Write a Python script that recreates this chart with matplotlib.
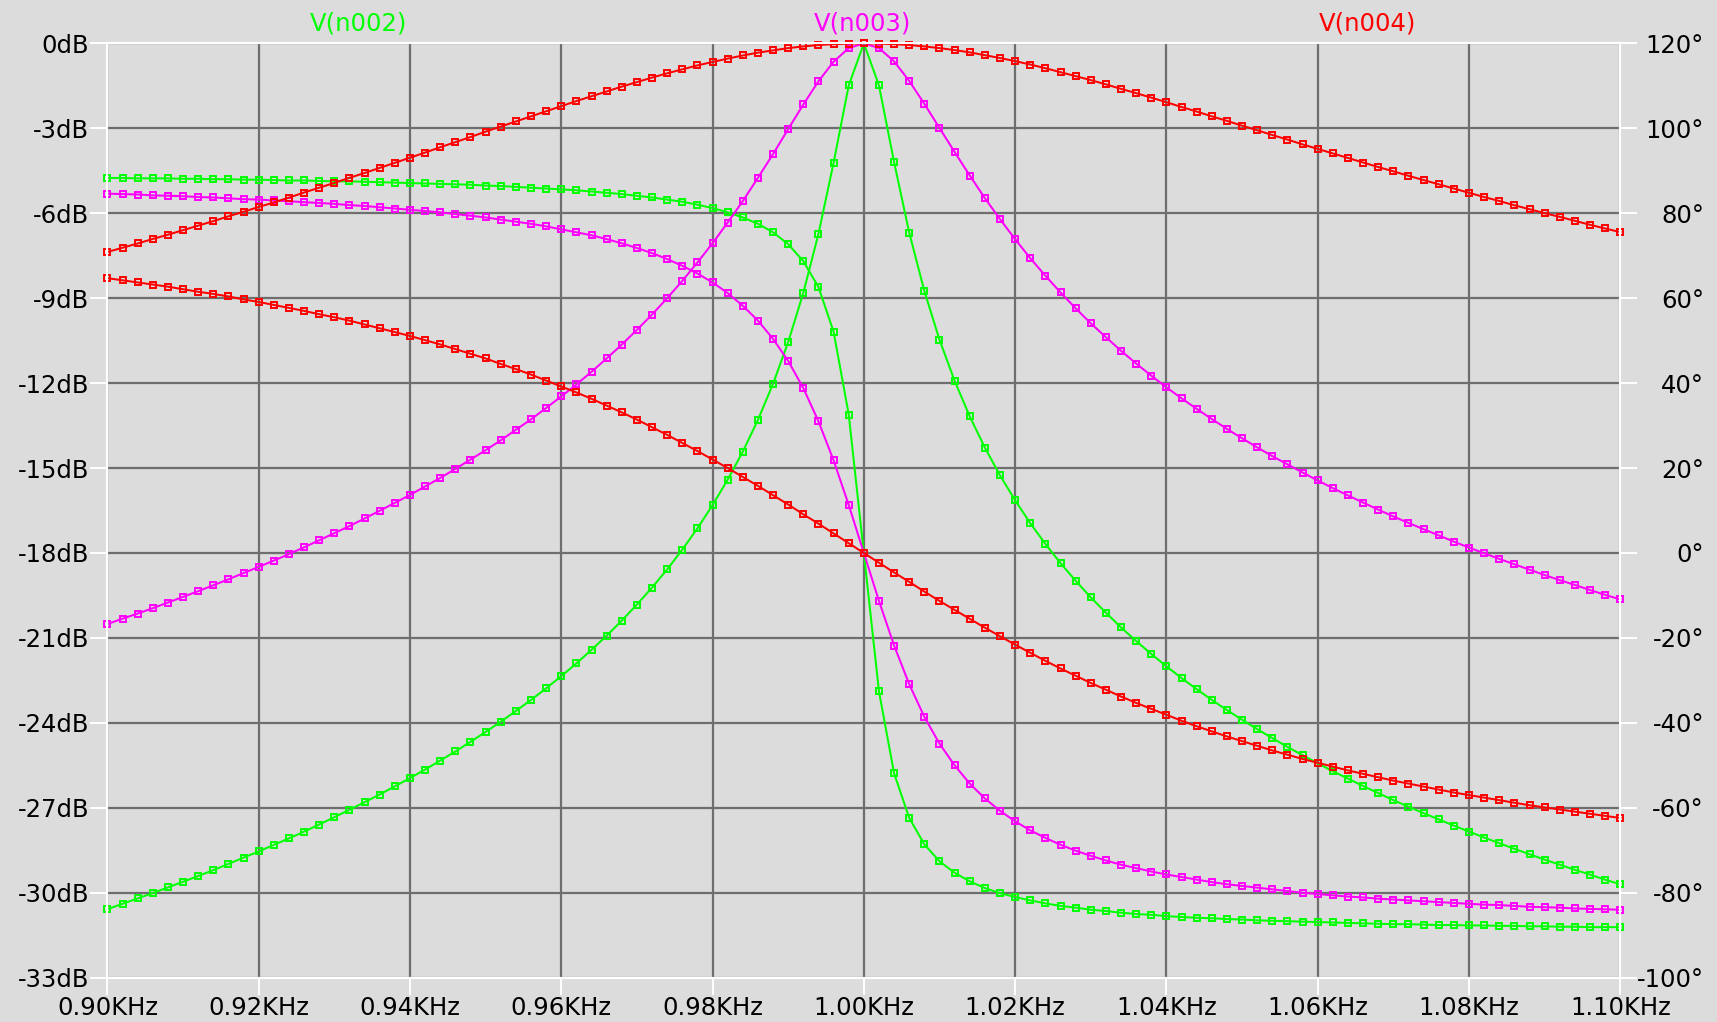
import matplotlib
matplotlib.use("Agg")
import matplotlib.pyplot as plt

# Barrido AC: 900 Hz a 1100 Hz, paso 2 Hz
FREQ_HZ = list(range(900, 1101, 2))

# V(n002) - verde
MAG_N002 = [
    -30.58, -30.39, -30.20, -30.01, -29.81, -29.61, -29.41, -29.20, -28.98, -28.76,
    -28.54, -28.31, -28.08, -27.84, -27.59, -27.33, -27.07, -26.80, -26.53, -26.24,
    -25.95, -25.65, -25.33, -25.01, -24.67, -24.32, -23.96, -23.58, -23.19, -22.78,
    -22.35, -21.90, -21.42, -20.92, -20.39, -19.82, -19.22, -18.58, -17.88, -17.13,
    -16.31, -15.41, -14.42, -13.30, -12.02, -10.55, -8.81, -6.73, -4.22, -1.49,
    0.00,
    -1.49, -4.20, -6.69, -8.75, -10.47, -11.92, -13.18, -14.28, -15.26, -16.14,
    -16.95, -17.68, -18.36, -18.98, -19.57, -20.11, -20.63, -21.11, -21.57, -22.00,
    -22.42, -22.81, -23.19, -23.55, -23.89, -24.22, -24.54, -24.85, -25.14, -25.43,
    -25.71, -25.97, -26.23, -26.48, -26.73, -26.96, -27.19, -27.41, -27.63, -27.84,
    -28.05, -28.25, -28.45, -28.64, -28.83, -29.01, -29.19, -29.36, -29.54, -29.70,
]
PHASE_N002 = [
    88.3, 88.3, 88.2, 88.2, 88.2, 88.1, 88.1, 88.0, 88.0, 87.9,
    87.9, 87.8, 87.7, 87.7, 87.6, 87.5, 87.5, 87.4, 87.3, 87.2,
    87.1, 87.0, 86.9, 86.8, 86.7, 86.5, 86.4, 86.2, 86.0, 85.8,
    85.6, 85.4, 85.1, 84.8, 84.5, 84.1, 83.7, 83.2, 82.7, 82.0,
    81.2, 80.2, 79.0, 77.5, 75.5, 72.7, 68.7, 62.6, 52.1, 32.6,
    0.0,
    -32.6, -51.9, -62.4, -68.6, -72.6, -75.3, -77.3, -78.9, -80.1, -81.0,
    -81.8, -82.5, -83.1, -83.5, -84.0, -84.3, -84.7, -85.0, -85.2, -85.5,
    -85.7, -85.9, -86.0, -86.2, -86.3, -86.5, -86.6, -86.7, -86.8, -86.9,
    -87.0, -87.1, -87.2, -87.3, -87.4, -87.4, -87.5, -87.6, -87.6, -87.7,
    -87.7, -87.8, -87.8, -87.9, -87.9, -88.0, -88.0, -88.1, -88.1, -88.1,
]

# V(n003) - magenta
MAG_N003 = [
    -20.51, -20.32, -20.14, -19.95, -19.75, -19.55, -19.35, -19.14, -18.93, -18.71,
    -18.49, -18.27, -18.04, -17.80, -17.55, -17.30, -17.05, -16.78, -16.51, -16.23,
    -15.95, -15.65, -15.35, -15.03, -14.70, -14.37, -14.02, -13.65, -13.28, -12.88,
    -12.47, -12.05, -11.60, -11.13, -10.64, -10.12, -9.58, -9.00, -8.39, -7.74,
    -7.06, -6.33, -5.57, -4.75, -3.91, -3.03, -2.16, -1.34, -0.65, -0.17,
    0.00,
    -0.17, -0.64, -1.33, -2.14, -2.99, -3.84, -4.67, -5.47, -6.21, -6.92,
    -7.59, -8.21, -8.80, -9.36, -9.89, -10.38, -10.86, -11.31, -11.74, -12.15,
    -12.54, -12.91, -13.27, -13.62, -13.95, -14.27, -14.58, -14.87, -15.16, -15.44,
    -15.71, -15.97, -16.22, -16.47, -16.71, -16.94, -17.16, -17.38, -17.60, -17.81,
    -18.01, -18.21, -18.40, -18.59, -18.78, -18.96, -19.13, -19.31, -19.48, -19.64,
]
PHASE_N003 = [
    84.6, 84.5, 84.4, 84.2, 84.1, 84.0, 83.8, 83.7, 83.5, 83.3,
    83.2, 83.0, 82.8, 82.6, 82.4, 82.2, 81.9, 81.7, 81.4, 81.1,
    80.8, 80.5, 80.2, 79.8, 79.4, 79.0, 78.5, 78.0, 77.5, 76.9,
    76.2, 75.5, 74.8, 73.9, 72.9, 71.8, 70.6, 69.2, 67.6, 65.8,
    63.7, 61.2, 58.2, 54.7, 50.4, 45.2, 38.8, 31.0, 21.8, 11.3,
    0.0,
    -11.3, -21.8, -30.9, -38.6, -44.9, -50.0, -54.3, -57.8, -60.7, -63.2,
    -65.3, -67.1, -68.7, -70.1, -71.3, -72.4, -73.4, -74.2, -75.0, -75.7,
    -76.3, -76.9, -77.5, -78.0, -78.4, -78.8, -79.2, -79.6, -80.0, -80.3,
    -80.6, -80.9, -81.1, -81.4, -81.6, -81.8, -82.0, -82.2, -82.4, -82.6,
    -82.8, -82.9, -83.1, -83.3, -83.4, -83.5, -83.7, -83.8, -83.9, -84.0,
]

# V(n004) - rojo
MAG_N004 = [
    -7.37, -7.22, -7.07, -6.91, -6.76, -6.60, -6.44, -6.28, -6.11, -5.95,
    -5.78, -5.62, -5.45, -5.27, -5.10, -4.93, -4.75, -4.58, -4.40, -4.22,
    -4.04, -3.86, -3.67, -3.49, -3.31, -3.12, -2.94, -2.76, -2.58, -2.40,
    -2.22, -2.04, -1.87, -1.70, -1.53, -1.37, -1.21, -1.06, -0.92, -0.78,
    -0.66, -0.54, -0.43, -0.33, -0.25, -0.17, -0.11, -0.06, -0.03, -0.01,
    0.00,
    -0.01, -0.03, -0.06, -0.11, -0.17, -0.24, -0.32, -0.42, -0.52, -0.63,
    -0.75, -0.88, -1.02, -1.16, -1.30, -1.45, -1.61, -1.76, -1.92, -2.08,
    -2.25, -2.41, -2.58, -2.74, -2.91, -3.07, -3.24, -3.40, -3.57, -3.73,
    -3.89, -4.05, -4.21, -4.37, -4.52, -4.68, -4.83, -4.98, -5.13, -5.28,
    -5.43, -5.57, -5.72, -5.86, -6.00, -6.13, -6.27, -6.41, -6.54, -6.67,
]
PHASE_N004 = [
    64.7, 64.2, 63.7, 63.2, 62.7, 62.1, 61.5, 61.0, 60.4, 59.7,
    59.1, 58.4, 57.7, 57.0, 56.2, 55.5, 54.7, 53.8, 52.9, 52.0,
    51.1, 50.1, 49.1, 48.0, 46.9, 45.8, 44.5, 43.3, 42.0, 40.6,
    39.2, 37.8, 36.3, 34.7, 33.1, 31.4, 29.6, 27.8, 25.9, 24.0,
    22.0, 20.0, 17.9, 15.8, 13.6, 11.4, 9.1, 6.9, 4.6, 2.3,
    0.0,
    -2.3, -4.6, -6.8, -9.1, -11.3, -13.4, -15.5, -17.6, -19.6, -21.6,
    -23.5, -25.4, -27.2, -28.9, -30.6, -32.2, -33.8, -35.3, -36.7, -38.1,
    -39.5, -40.8, -42.0, -43.2, -44.3, -45.4, -46.5, -47.5, -48.5, -49.4,
    -50.3, -51.2, -52.0, -52.8, -53.6, -54.3, -55.0, -55.7, -56.4, -57.0,
    -57.6, -58.2, -58.8, -59.4, -59.9, -60.4, -60.9, -61.4, -61.9, -62.4,
]

NOMBRES = ["V(n002)", "V(n003)", "V(n004)"]
COLORES = ["#00ff00", "#ff00ff", "#ff0000"]
X_TITULOS = [358, 863, 1367]   # centro de cada titulo en pixeles

X_TICKS = [0.90, 0.92, 0.94, 0.96, 0.98, 1.00, 1.02, 1.04, 1.06, 1.08, 1.10]
DB_TICKS = list(range(-33, 1, 3))
FASE_TICKS = list(range(-100, 121, 20))

FONDO = "#dcdcdc"
REJILLA = "#6e6e6e"
TAM_LETRA = 17.5

W, H = 1717, 1022
fig = plt.figure(figsize=(W / 100, H / 100), dpi=100)
fig.patch.set_facecolor(FONDO)

ax = fig.add_axes([107.4 / W, 44.3 / H, 1512.9 / W, 934.4 / H])
ax.set_facecolor(FONDO)
ax2 = ax.twinx()
ax.set_xlim(0.9, 1.1)
ax.set_ylim(-33, 0)
ax2.set_ylim(-100, 120)

freq_khz = [f / 1000 for f in FREQ_HZ]
magnitudes = [MAG_N002, MAG_N003, MAG_N004]
fases = [PHASE_N002, PHASE_N003, PHASE_N004]

# cuadrados huecos, como los de LTspice
estilo = dict(lw=1.45, marker="s", ms=4.2, mfc="none", mew=1.4, clip_on=False)
for i in range(3):
    z = 2 + i
    ax.plot(freq_khz, magnitudes[i], color=COLORES[i], zorder=z, **estilo)
    # la fase va en el mismo eje, pero con la escala del eje derecho
    ax.plot(freq_khz, fases[i], color=COLORES[i], zorder=z,
            transform=ax2.transData, **estilo)

ax.set_xlim(0.9, 1.1)
ax.set_ylim(-33, 0)

ax.set_xticks(X_TICKS)
ax.set_xticklabels([f"{v:.2f}KHz" for v in X_TICKS])
ax.set_yticks(DB_TICKS)
ax.set_yticklabels([f"{v}dB" for v in DB_TICKS])
ax2.set_yticks(FASE_TICKS)
ax2.set_yticklabels([f"{v}°" for v in FASE_TICKS])

ax.tick_params(axis="both", direction="out", length=12.2, width=1.4,
               color="white", labelcolor="black", labelsize=TAM_LETRA, pad=1)
ax2.tick_params(axis="y", direction="out", length=12.2, width=1.4,
                color="white", labelcolor="black", labelsize=TAM_LETRA, pad=48)
for lab in ax2.get_yticklabels():
    lab.set_horizontalalignment("right")

ax.grid(True, color=REJILLA, lw=1.6)
ax.set_axisbelow(True)

for eje in (ax, ax2):
    for s in eje.spines.values():
        s.set_color("white")
        s.set_linewidth(1.5)

for nombre, color, xt in zip(NOMBRES, COLORES, X_TITULOS):
    fig.text(xt / W, 1 - 23 / H, nombre, color=color, fontsize=TAM_LETRA,
             ha="center", va="center")

fig.savefig("out.png", dpi=100, facecolor=FONDO)
plt.close(fig)
